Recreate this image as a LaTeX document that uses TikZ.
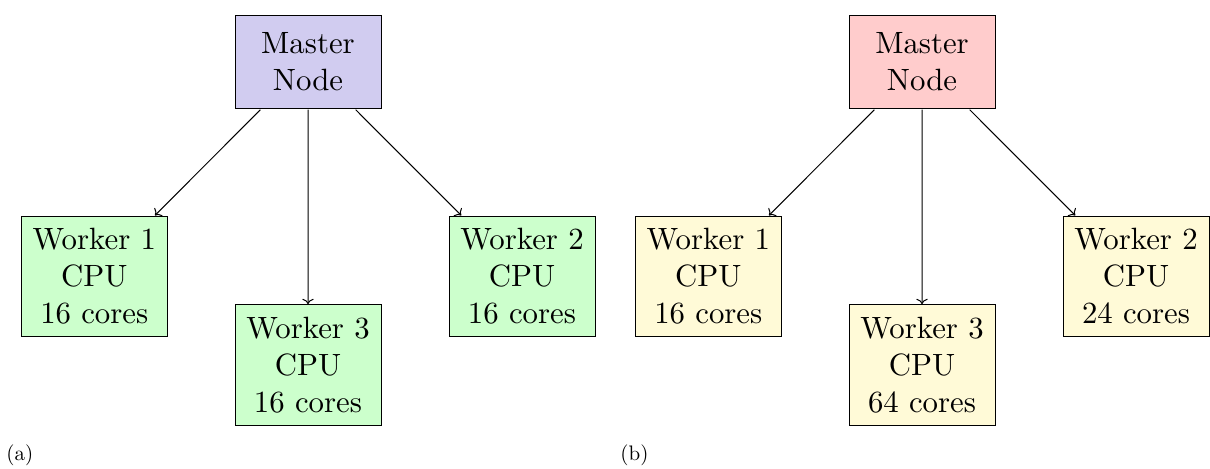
\documentclass[tikz,border=0pt]{standalone}
\usetikzlibrary{arrows.meta}
\definecolor{mastera}{RGB}{209,204,240}
\definecolor{masterb}{RGB}{255,204,204}
\definecolor{workera}{RGB}{204,255,204}
\definecolor{workerb}{RGB}{255,250,215}
\begin{document}
\begin{tikzpicture}[x=0.5pt,y=-0.5pt,
  box/.style={draw, line width=0.5pt, align=center, inner sep=0pt,
    scale=1.54, transform shape,
    minimum width=47.4pt, font=\normalsize},
  masterbox/.style={box, minimum height=30.5pt},
  workerbox/.style={box, minimum height=39pt},
  conn/.style={->, line width=0.5pt},
  caplabel/.style={anchor=base west, inner sep=0pt, font=\fontsize{10.5}{12}\selectfont}]
\useasboundingbox (0,0) rectangle (1210,469);
% panel (a)
\node[masterbox, fill=mastera] (ma) at (308,62) {Master\\Node};
\node[workerbox, fill=workera] (w1a) at (94.3,276.3) {Worker 1\\CPU\\16 cores};
\node[workerbox, fill=workera] (w2a) at (522,276.3) {Worker 2\\CPU\\16 cores};
\node[workerbox, fill=workera] (w3a) at (308,365) {Worker 3\\CPU\\16 cores};
\draw[conn] (ma) -- (w1a);
\draw[conn] (ma) -- (w2a);
\draw[conn] (ma) -- (w3a);
\node[caplabel] (la) at (6,461) {(a)};
% panel (b)
\node[masterbox, fill=masterb] (mb) at (922,62) {Master\\Node};
\node[workerbox, fill=workerb] (w1b) at (708.3,276.3) {Worker 1\\CPU\\16 cores};
\node[workerbox, fill=workerb] (w2b) at (1136,276.3) {Worker 2\\CPU\\24 cores};
\node[workerbox, fill=workerb] (w3b) at (922,365) {Worker 3\\CPU\\64 cores};
\draw[conn] (mb) -- (w1b);
\draw[conn] (mb) -- (w2b);
\draw[conn] (mb) -- (w3b);
\node[caplabel] (lb) at (620,461) {(b)};
\end{tikzpicture}
\end{document}
